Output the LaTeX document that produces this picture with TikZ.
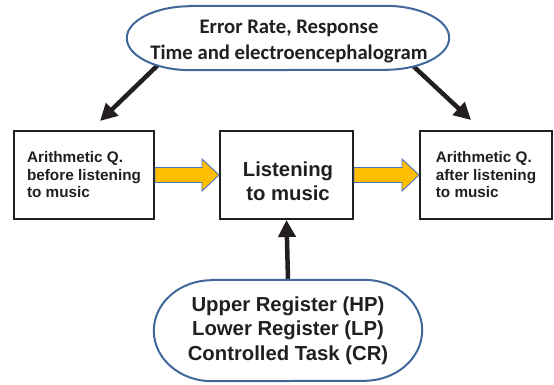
\documentclass[tikz,border=0pt]{standalone}
\usepackage{fontspec}
\setmainfont{Liberation Sans}
\newfontfamily\calibrifont{Carlito}
\usetikzlibrary{arrows.meta,calc,backgrounds}

\definecolor{inkdark}{RGB}{35,31,32}
\definecolor{ovalblue}{RGB}{65,104,155}
\definecolor{flowyellow}{RGB}{255,190,0}
\definecolor{flowedge}{RGB}{68,114,196}

\tikzset{
  box/.style={draw=inkdark, line width=2pt, fill=white, inner sep=0pt,
    align=left, text=inkdark},
  smalltext/.style={font=\bfseries\fontsize{15.3}{17.5}\selectfont},
  bigtext/.style={font=\bfseries\fontsize{20.3}{24.3}\selectfont, align=center, text=inkdark},
  toptext/.style={font=\calibrifont\bfseries\fontsize{20.7}{25.5}\selectfont, align=center, text=inkdark},
  ovalarea/.style={inner sep=0pt},
  ovalline/.style={draw=ovalblue, line width=2pt, fill=white},
  blackarrow/.style={draw=inkdark, line width=4.5pt,
    -{Triangle[length=17pt,width=17pt]}},
  yellowarrow/.style={fill=flowyellow, draw=flowedge, line width=0.9pt, line join=miter},
}

\begin{document}
\begin{tikzpicture}[x=1pt,y=1pt]
\useasboundingbox (0,0) rectangle (554,384);

% rectangular stages
\node[box, smalltext, minimum width=140, minimum height=88] (L) at (84,209)
  {Arithmetic Q.\\before listening\\to music};
\node[box, minimum width=133, minimum height=88] (M) at (286.5,209) {};
\node[box, smalltext, minimum width=132, minimum height=88] (R) at (486,209)
  {Arithmetic Q.\\after listening\\to music};
\node[bigtext] (Mt) at ($(M.center)+(1.5,-6)$) {Listening\\to music};

% oval areas (outline drawn on the background layer)
\node[ovalarea, minimum width=322, minimum height=64] (T) at (288,346) {};
\node[toptext] (Tt) at ($(T.center)+(1,-3.5)$) {Error Rate, Response\\Time and electroencephalogram};
\node[ovalarea, minimum width=268, minimum height=101] (B) at (288,53.5) {};
\node[bigtext] (Bt) at (B.center) {Upper Register (HP)\\Lower Register (LP)\\Controlled Task (CR)};

\coordinate (lefttip) at ($(L.north)+(16,9)$);
\coordinate (righttip) at ($(R.north)+(-15,10)$);

\begin{scope}[on background layer]
  % measurement arrows from the top oval
  \draw[blackarrow] ($(T.south west)+(32,6)$) -- (lefttip);
  \draw[blackarrow] ($(T.south east)+(-38,6)$) -- (righttip);
  % condition arrow from the bottom oval
  \draw[blackarrow] (B.north) -- (M.south);

  \draw[ovalline] ([xshift=64]T.north west) -- ([xshift=-64]T.north east)
    arc[start angle=90, end angle=-90, x radius=64, y radius=32]
    -- ([xshift=64]T.south west)
    arc[start angle=270, end angle=90, x radius=64, y radius=32] -- cycle;
  \draw[ovalline] ([xshift=58]B.north west) -- ([xshift=-58]B.north east)
    arc[start angle=90, end angle=-90, x radius=58, y radius=50.5]
    -- ([xshift=58]B.south west)
    arc[start angle=270, end angle=90, x radius=58, y radius=50.5] -- cycle;
\end{scope}

% block arrows between the stages
\draw[yellowarrow] ($(L.east)+(0,7.5)$) -- ($(M.west)+(-17,7.5)$)
  -- ($(M.west)+(-17,16)$) -- (M.west) -- ($(M.west)+(-17,-16)$)
  -- ($(M.west)+(-17,-7.5)$) -- ($(L.east)+(0,-7.5)$) -- cycle;
\draw[yellowarrow] ($(M.east)+(0,7.5)$) -- ($(R.west)+(-17,7.5)$)
  -- ($(R.west)+(-17,16)$) -- (R.west) -- ($(R.west)+(-17,-16)$)
  -- ($(R.west)+(-17,-7.5)$) -- ($(M.east)+(0,-7.5)$) -- cycle;
\end{tikzpicture}
\end{document}
